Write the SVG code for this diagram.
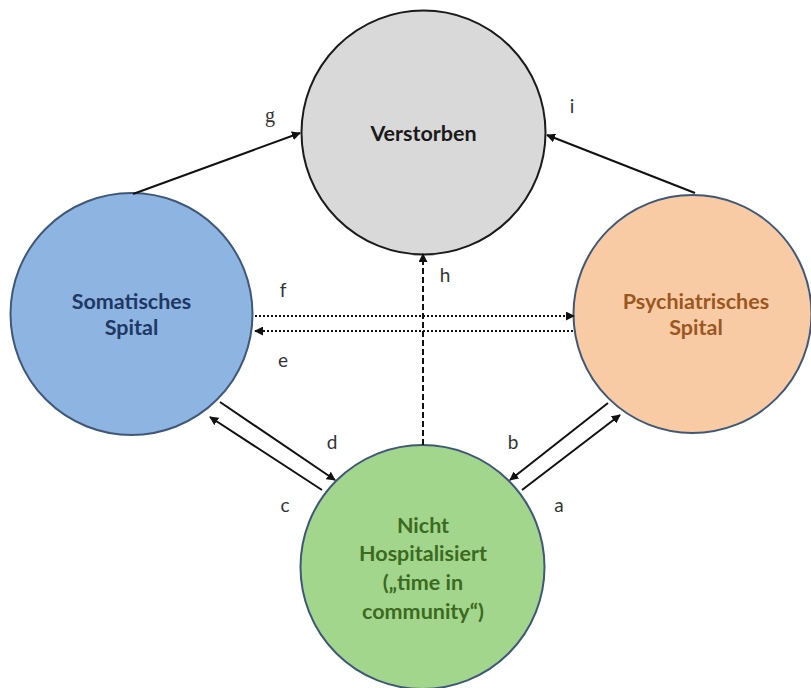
<svg xmlns="http://www.w3.org/2000/svg" width="811" height="688" viewBox="0 0 811 688">
<style>
.node{stroke-width:2}
.lbl{font-family:Lato,"Open Sans","Liberation Sans",sans-serif;font-weight:bold;font-size:21.5px;text-anchor:middle}
.let{font-family:Lato,"Open Sans","Liberation Sans",sans-serif;font-size:19px;fill:#333;text-anchor:middle}
.con{stroke:#111;stroke-width:2;fill:none}
</style>
<defs>
<marker id="ah" viewBox="0 0 10 10" refX="9" refY="5" markerWidth="4.5" markerHeight="4.5" orient="auto" markerUnits="strokeWidth">
<path d="M0,0 L10,5 L0,10 Z" fill="#111"/>
</marker>
</defs>
<rect width="811" height="688" fill="#ffffff"/>
<g id="verstorben">
<circle class="node" cx="423.5" cy="132.5" r="122" fill="#d9d9d9" stroke="#1a1a1a"/>
<text class="lbl" x="423.5" y="141" fill="#1a1a1a">Verstorben</text>
</g>
<g id="somatisches">
<circle class="node" cx="131.5" cy="314" r="121" fill="#8eb4e2" stroke="#3f5878"/>
<text class="lbl" x="131.5" y="309" fill="#1f3763">Somatisches</text>
<text class="lbl" x="131.5" y="335" fill="#1f3763">Spital</text>
</g>
<g id="psychiatrisches">
<circle class="node" cx="692.5" cy="314" r="119" fill="#f9cba5" stroke="#3f5878"/>
<text class="lbl" x="696" y="309" fill="#9a5722">Psychiatrisches</text>
<text class="lbl" x="696" y="335" fill="#9a5722">Spital</text>
</g>
<g id="nicht">
<circle class="node" cx="422.5" cy="567" r="122" fill="#a3d68d" stroke="#3f5878"/>
<text class="lbl" x="423" y="533" fill="#3c6a21">Nicht</text>
<text class="lbl" x="423" y="561" fill="#3c6a21">Hospitalisiert</text>
<text class="lbl" x="423" y="590" fill="#3c6a21">(„time in</text>
<text class="lbl" x="423" y="619" fill="#3c6a21">community“)</text>
</g>
<g id="connectors">
<line class="con" x1="133" y1="194" x2="300" y2="133" marker-end="url(#ah)"/>
<line class="con" x1="695" y1="193" x2="547" y2="135" marker-end="url(#ah)"/>
<line class="con" x1="423" y1="445" x2="423" y2="254" stroke-dasharray="6 3" marker-end="url(#ah)"/>
<line class="con" x1="255" y1="316" x2="574" y2="316" stroke-dasharray="2 2" marker-end="url(#ah)"/>
<line class="con" x1="573" y1="331" x2="255" y2="331" stroke-dasharray="2 2" marker-end="url(#ah)"/>
<line class="con" x1="220" y1="402" x2="335" y2="480" marker-end="url(#ah)"/>
<line class="con" x1="322" y1="490" x2="210" y2="417" marker-end="url(#ah)"/>
<line class="con" x1="608" y1="403" x2="510" y2="480" marker-end="url(#ah)"/>
<line class="con" x1="522" y1="490" x2="620" y2="415" marker-end="url(#ah)"/>
</g>
<g id="labels">
<text x="270" y="122" font-family="'Liberation Serif',serif" font-size="20" fill="#333" text-anchor="middle">g</text>
<text class="let" x="572" y="113">i</text>
<text class="let" x="445" y="282">h</text>
<text class="let" x="283" y="297">f</text>
<text class="let" x="283" y="367">e</text>
<text class="let" x="332" y="449">d</text>
<text class="let" x="513" y="449">b</text>
<text class="let" x="285" y="512">c</text>
<text class="let" x="559" y="512">a</text>
</g>
</svg>
